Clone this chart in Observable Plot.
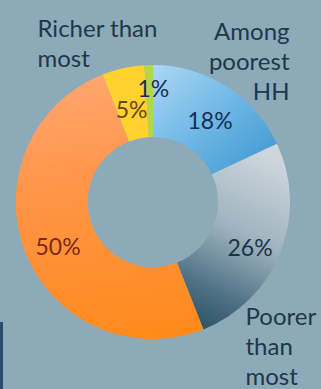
<!DOCTYPE html>
<html><head><meta charset="utf-8">
<script src="https://cdn.jsdelivr.net/npm/d3@7"></script>
<script src="https://cdn.jsdelivr.net/npm/@observablehq/plot@0.6"></script>
<style>
html,body{margin:0;padding:0;background:#8daab9;overflow:hidden}
#chart{position:relative;width:321px;height:389px}
#chart::before{content:"";position:absolute;left:0;top:322px;width:3px;height:67px;background:#2b4d6e}
</style></head><body><div id="chart"></div>
<script>
// ---- data ----
const categories = ["Among poorest HH", "Poorer than most", "About average", "Richer than most", "Among richest"];
const shares = [18, 26, 50, 5, 1];
const shownLabels = ["Among\npoorest\nHH", "Poorer\nthan\nmost", "", "Richer than\nmost", ""];

// ---- styles ----
const fills = ["url(#gBlue)", "url(#gGray)", "url(#gOrange)", "#ffd22e", "#b5d64a"];
const pctColors = ["#172f55", "#1b3347", "#7a2a10", "#6a4410", "#172f55"];
const labelColor = "#1d384a";
const font = "Lato, 'Open Sans', sans-serif";

const data = categories.map((c, i) => ({category: c, share: shares[i], label: shownLabels[i]}));
const arcs = d3.pie().sort(null).value(d => d.share)(data);
const innerRatio = 0.475;
const mid = a => (a.startAngle + a.endAngle) / 2;
const labelR = [0.72, 0.78, 0.77, 0.69, 0.825];
const labelTurn = [0.045, 0.066, -0.063, -0.014, 0.03];

function donut(index, scales) {
  const ns = "http://www.w3.org/2000/svg";
  const g = document.createElementNS(ns, "g");
  const cx = scales.x(0), cy = scales.y(0);
  const rOut = scales.x(1) - scales.x(0);
  const rIn = scales.x(innerRatio) - scales.x(0);
  g.innerHTML = `<defs>
    <linearGradient id="gBlue" x1="0" y1="0" x2="1" y2="1">
      <stop offset="0" stop-color="#acd7f3"/><stop offset="0.5" stop-color="#6db6e5"/><stop offset="1" stop-color="#3b95ce"/></linearGradient>
    <linearGradient id="gGray" x1="0.6" y1="0" x2="0.3" y2="1">
      <stop offset="0" stop-color="#cdd6dc"/><stop offset="0.45" stop-color="#9fb3bf"/><stop offset="0.8" stop-color="#4f7285"/><stop offset="1" stop-color="#2f566b"/></linearGradient>
    <linearGradient id="gOrange" x1="0.5" y1="0" x2="0.6" y2="1">
      <stop offset="0" stop-color="#ffa56e"/><stop offset="0.4" stop-color="#ff9548"/><stop offset="1" stop-color="#ff8a1c"/></linearGradient>
    <filter id="soft" x="-10%" y="-10%" width="120%" height="120%"><feGaussianBlur stdDeviation="0.7"/></filter>
  </defs>`;
  const arc = d3.arc().innerRadius(rIn).outerRadius(rOut);
  const wrap = document.createElementNS(ns, "g");
  wrap.setAttribute("transform", `translate(${cx},${cy})`);
  wrap.setAttribute("filter", "url(#soft)");
  arcs.forEach((a, i) => {
    const p = document.createElementNS(ns, "path");
    p.setAttribute("d", arc(a));
    p.setAttribute("fill", fills[i]);
    wrap.appendChild(p);
  });
  g.appendChild(wrap);
  return g;
}

const catText = {text: d => d, lineAnchor: "top", fontSize: 24, lineHeight: 1.26, fill: labelColor, fontFamily: font};

const chart = Plot.plot({
  width: 321, height: 389, margin: 0,
  x: {domain: [-153 / 137, 168 / 137], axis: null},
  y: {domain: [-187 / 137, 202 / 137], axis: null},
  style: {background: "transparent", fontFamily: font},
  marks: [
    donut,
    Plot.text(arcs, {
      x: (d, i) => Math.sin(mid(d) + labelTurn[i]) * labelR[i],
      y: (d, i) => Math.cos(mid(d) + labelTurn[i]) * labelR[i],
      text: d => d.data.share + "%",
      fill: (d, i) => pctColors[i],
      fontSize: 23, fontFamily: font
    }),
    Plot.text([data[3].label], {...catText, frameAnchor: "top-left", dx: 37, dy: 15, textAnchor: "start"}),
    Plot.text([data[0].label], {...catText, frameAnchor: "top-right", dx: -32, dy: 18, textAnchor: "end"}),
    Plot.text([data[1].label], {...catText, frameAnchor: "top-left", dx: 245, dy: 303, textAnchor: "start"})
  ]
});
document.getElementById("chart").appendChild(chart);
</script></body></html>
